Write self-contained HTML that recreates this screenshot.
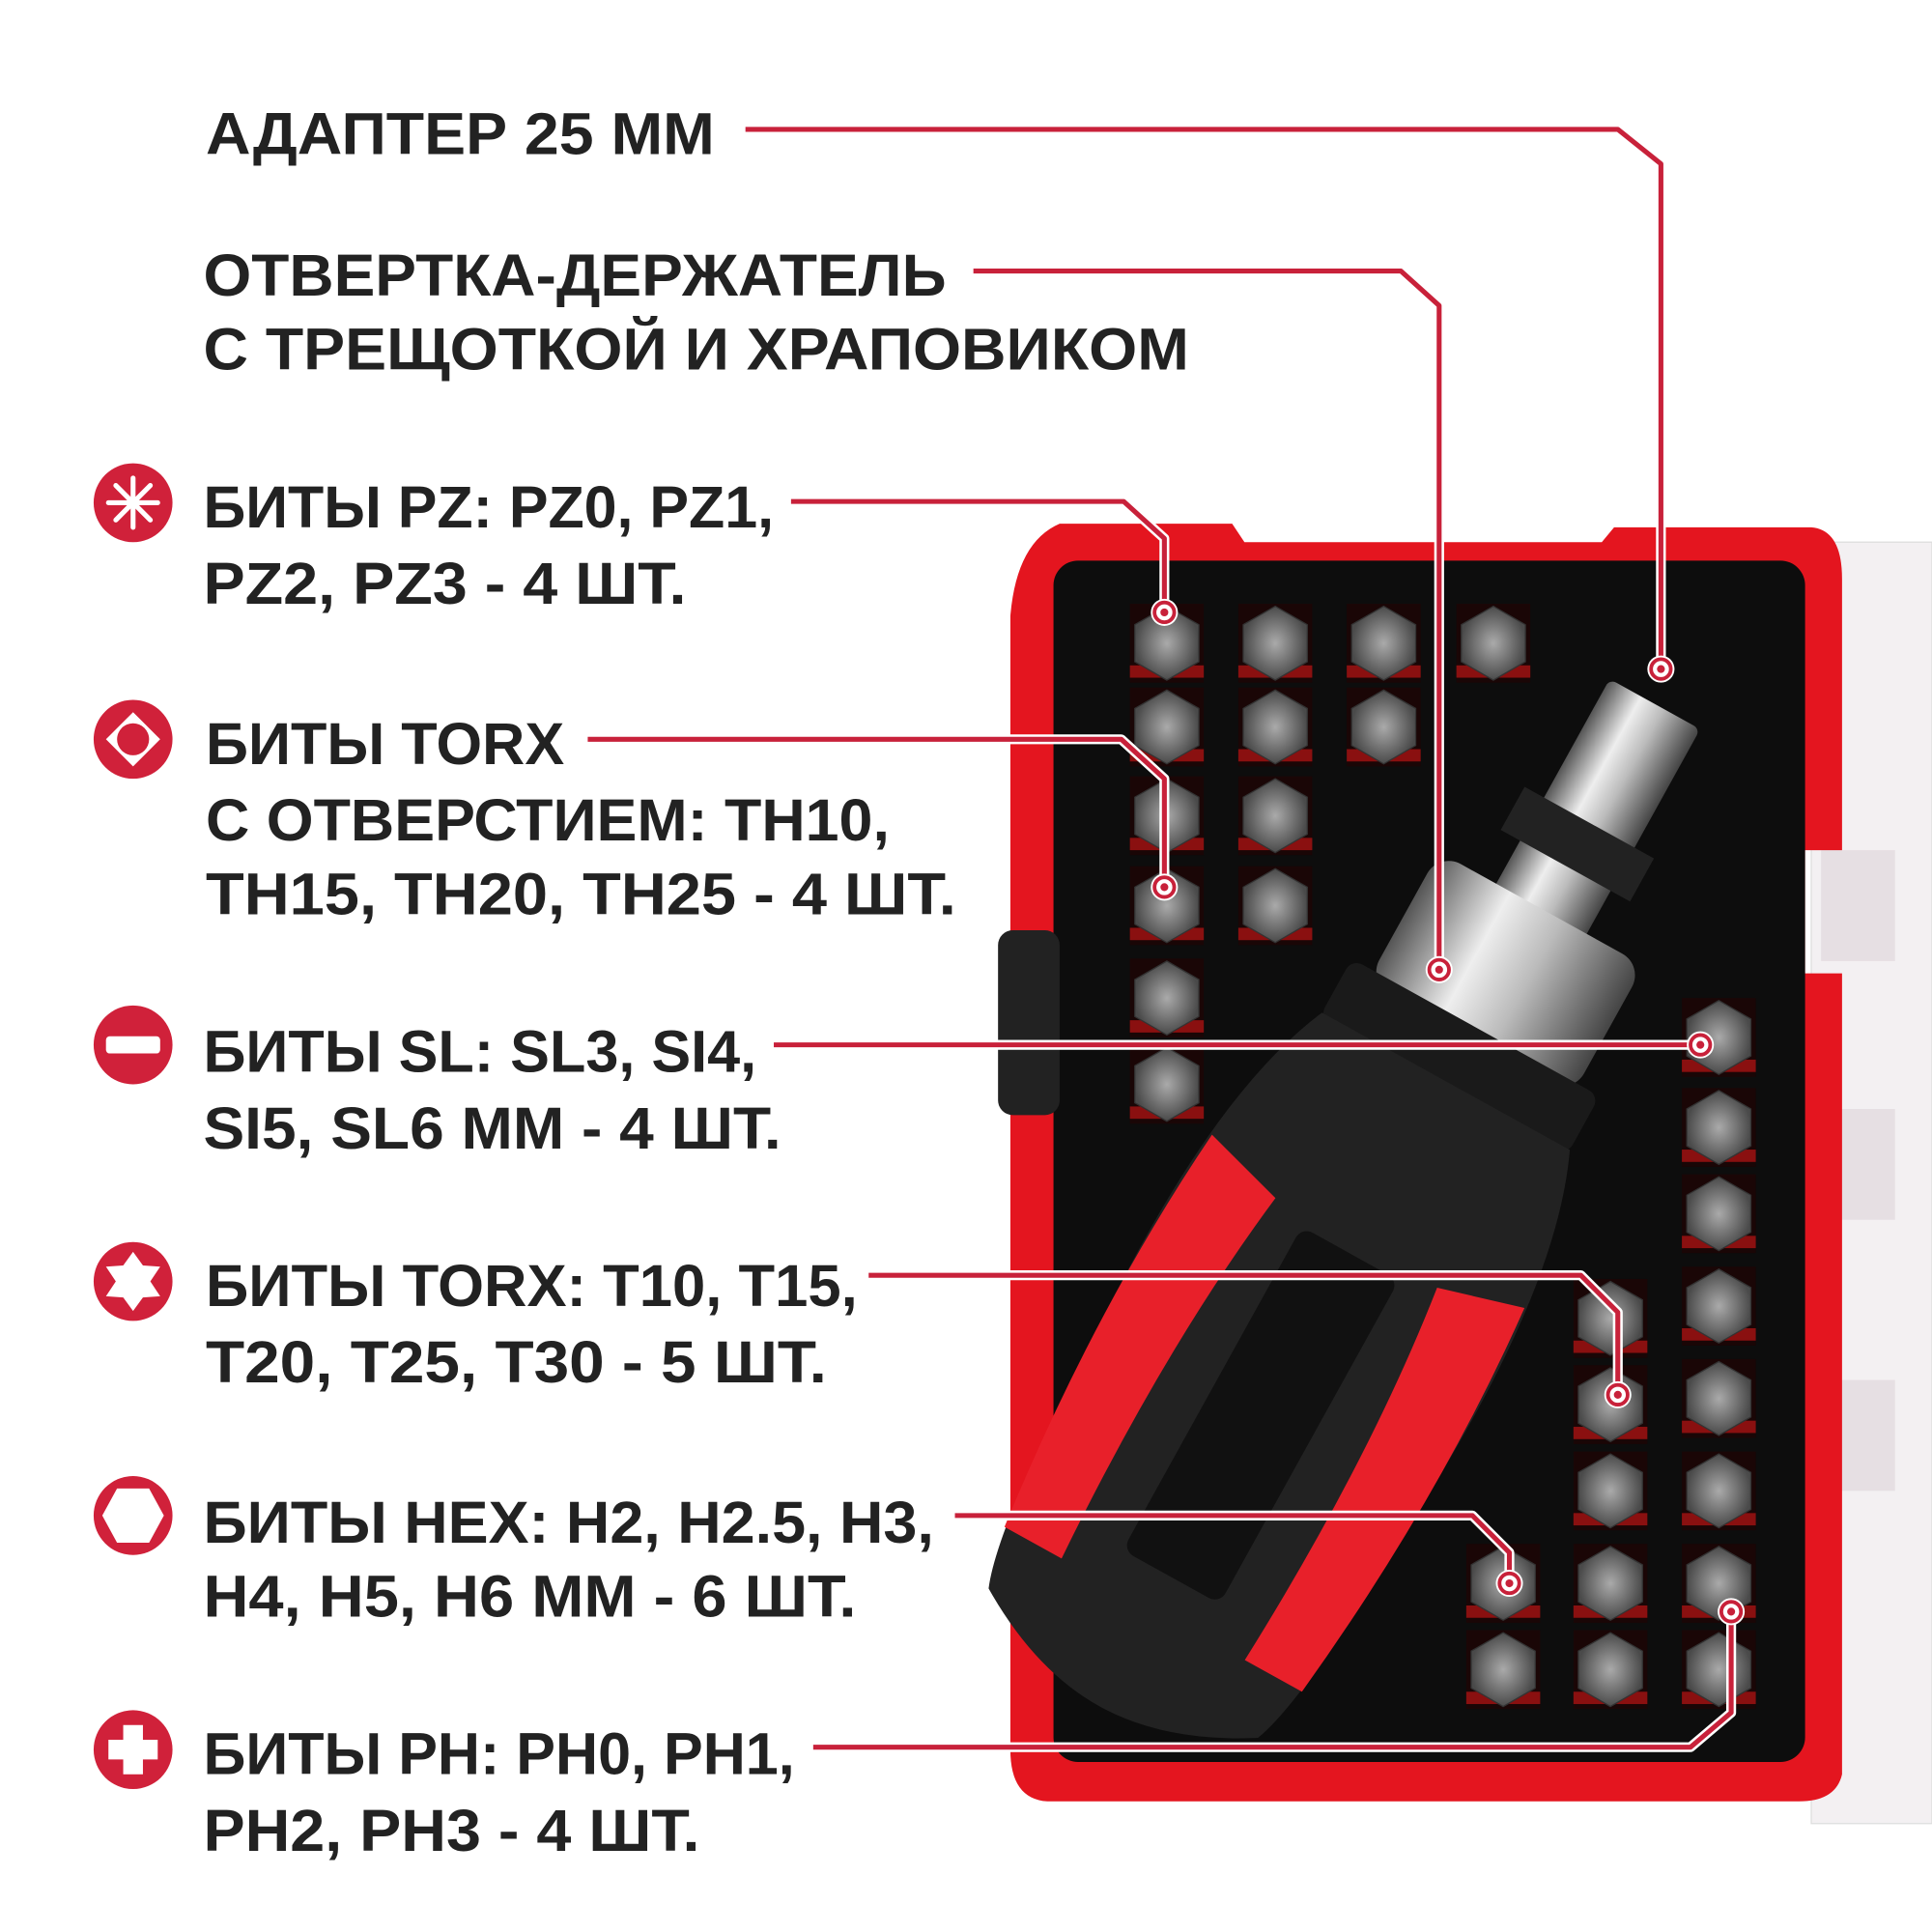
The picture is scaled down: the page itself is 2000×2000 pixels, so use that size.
<!DOCTYPE html>
<html><head><meta charset="utf-8"><style>
html,body{margin:0;padding:0;background:#fff;}
svg{display:block;}
text{font-family:"Liberation Sans","DejaVu Sans",sans-serif;font-weight:bold;fill:#222;font-size:48px;}
</style></head><body>
<svg width="2000" height="2000" viewBox="0 0 1568 1568" xmlns="http://www.w3.org/2000/svg">
<defs>
<linearGradient id="metal" x1="0" x2="1"><stop offset="0" stop-color="#555"/><stop offset="0.35" stop-color="#eee"/><stop offset="0.6" stop-color="#bbb"/><stop offset="1" stop-color="#444"/></linearGradient>
<radialGradient id="bit"><stop offset="0" stop-color="#aaa"/><stop offset="1" stop-color="#4a4a4a"/></radialGradient>
<g id="hx"><rect x="-30" y="-32" width="60" height="64" fill="#1a0606"/><rect x="-30" y="18" width="60" height="10" fill="#8a1010"/><polygon points="-26,-15 0,-30 26,-15 26,15 0,30 -26,15" fill="url(#bit)" stroke="#333"/></g>
<g id="dot"><circle r="11" fill="#fff"/><circle r="8" fill="#fff" stroke="#c8213a" stroke-width="3"/><circle r="3.2" fill="#c8213a"/></g>
</defs>
<!-- clear lid -->
<rect x="1470" y="440" width="98" height="1040" fill="#f3f0f2" stroke="#ddd"/>
<rect x="1478" y="690" width="60" height="90" fill="#e6dfe3"/><rect x="1478" y="900" width="60" height="90" fill="#e6dfe3"/><rect x="1478" y="1120" width="60" height="90" fill="#e6dfe3"/>
<!-- case -->
<path d="M860,425 L1000,425 L1010,440 L1300,440 L1310,428 L1470,428 Q1495,430 1495,470 L1495,690 L1465,690 L1465,790 L1495,790 L1495,1440 Q1490,1462 1460,1462 L850,1462 Q820,1460 820,1420 L820,500 Q825,440 860,425 Z" fill="#e4151f"/>
<rect x="855" y="455" width="610" height="975" rx="20" fill="#0d0d0d"/>
<rect x="810" y="755" width="50" height="150" rx="12" fill="#222"/>
<!-- bits left -->
<use href="#hx" x="947" y="522"/><use href="#hx" x="1035" y="522"/><use href="#hx" x="1123" y="522"/><use href="#hx" x="1212" y="522"/>
<use href="#hx" x="947" y="590"/><use href="#hx" x="1035" y="590"/><use href="#hx" x="1123" y="590"/>
<use href="#hx" x="947" y="662"/><use href="#hx" x="1035" y="662"/>
<use href="#hx" x="947" y="735"/><use href="#hx" x="1035" y="735"/>
<use href="#hx" x="947" y="810"/><use href="#hx" x="947" y="880"/>
<!-- bits right -->
<use href="#hx" x="1395" y="842"/><use href="#hx" x="1395" y="915"/><use href="#hx" x="1395" y="985"/><use href="#hx" x="1395" y="1060"/><use href="#hx" x="1395" y="1135"/><use href="#hx" x="1395" y="1210"/><use href="#hx" x="1395" y="1285"/><use href="#hx" x="1395" y="1355"/>
<use href="#hx" x="1307" y="1070"/><use href="#hx" x="1307" y="1140"/><use href="#hx" x="1307" y="1210"/><use href="#hx" x="1307" y="1285"/><use href="#hx" x="1307" y="1355"/>
<use href="#hx" x="1220" y="1285"/><use href="#hx" x="1220" y="1355"/>
<!-- screwdriver -->
<g transform="translate(1125,965) rotate(29)">
<rect x="-42" y="-450" width="84" height="200" rx="6" fill="url(#metal)"/>
<rect x="-60" y="-340" width="120" height="40" fill="#222"/>
<rect x="-95" y="-260" width="190" height="120" rx="20" fill="url(#metal)"/>
<rect x="-115" y="-150" width="230" height="55" rx="10" fill="#1a1a1a"/>
<path d="M-115,-100 L115,-100 Q160,0 150,200 Q145,390 125,440 Q60,480 0,480 Q-60,480 -125,440 Q-145,390 -150,200 Q-160,0 -115,-100 Z" fill="#222"/>
<path d="M-145,30 Q-160,200 -138,390 L-85,390 Q-95,200 -75,50 Z" fill="#e8202a"/>
<path d="M145,30 Q160,200 138,390 L85,390 Q95,200 75,50 Z" fill="#e8202a"/>
<rect x="-45" y="60" width="90" height="300" rx="10" fill="#111"/>
</g>
<!-- connectors -->
<g fill="none" stroke-linejoin="round">
<g stroke="#fff" stroke-width="8">
<polyline points="605,105 1313,105 1348,133 1348,543"/>
<polyline points="790,220 1137,220 1168,248 1168,787"/>
<polyline points="642,407 912,407 945,437 945,497"/>
<polyline points="477,600 910,600 945,632 945,720"/>
<polyline points="628,848 1380,848"/>
<polyline points="705,1035 1283,1035 1313,1065 1313,1132"/>
<polyline points="775,1230 1195,1230 1225,1260 1225,1285"/>
<polyline points="660,1418 1372,1418 1405,1390 1405,1308"/>
</g>
<g stroke="#c8213a" stroke-width="4">
<polyline points="605,105 1313,105 1348,133 1348,543"/>
<polyline points="790,220 1137,220 1168,248 1168,787"/>
<polyline points="642,407 912,407 945,437 945,497"/>
<polyline points="477,600 910,600 945,632 945,720"/>
<polyline points="628,848 1380,848"/>
<polyline points="705,1035 1283,1035 1313,1065 1313,1132"/>
<polyline points="775,1230 1195,1230 1225,1260 1225,1285"/>
<polyline points="660,1418 1372,1418 1405,1390 1405,1308"/>
</g></g>
<use href="#dot" x="1348" y="543"/><use href="#dot" x="1168" y="787"/><use href="#dot" x="945" y="497"/><use href="#dot" x="945" y="720"/><use href="#dot" x="1380" y="848"/><use href="#dot" x="1313" y="1132"/><use href="#dot" x="1225" y="1285"/><use href="#dot" x="1405" y="1308"/>
<!-- icons -->
<g fill="#d0213a">
<circle cx="108" cy="408" r="32"/><circle cx="108" cy="600" r="32"/><circle cx="108" cy="848" r="32"/><circle cx="108" cy="1040" r="32"/><circle cx="108" cy="1230" r="32"/><circle cx="108" cy="1420" r="32"/>
</g>
<g stroke="#fff" stroke-width="4" stroke-linecap="round"><line x1="108" y1="388" x2="108" y2="428"/><line x1="88" y1="408" x2="128" y2="408"/><line x1="94" y1="394" x2="122" y2="422"/><line x1="122" y1="394" x2="94" y2="422"/></g>
<polygon points="108,578 119,589 130,600 119,611 108,622 97,611 86,600 97,589" fill="#fff"/><circle cx="108" cy="600" r="13" fill="#d0213a"/>
<rect x="86" y="841" width="44" height="14" rx="3" fill="#fff"/>
<polygon points="108,1016 116,1027 130,1028 122,1040 130,1052 116,1053 108,1064 100,1053 86,1052 94,1040 86,1028 100,1027" fill="#fff"/>
<polygon points="95,1208 121,1208 133,1230 121,1252 95,1252 83,1230" fill="#fff"/>
<path d="M100,1400 h16 v12 h12 v16 h-12 v12 h-16 v-12 h-12 v-16 h12 z" fill="#fff"/>
<!-- text -->
<text x="167" y="125" textLength="413" lengthAdjust="spacingAndGlyphs">АДАПТЕР 25 ММ</text>
<text x="165" y="240" textLength="603" lengthAdjust="spacingAndGlyphs">ОТВЕРТКА-ДЕРЖАТЕЛЬ</text>
<text x="165" y="300" textLength="800" lengthAdjust="spacingAndGlyphs">С ТРЕЩОТКОЙ И ХРАПОВИКОМ</text>
<text x="165" y="428" textLength="463" lengthAdjust="spacingAndGlyphs">БИТЫ PZ: PZ0, PZ1,</text>
<text x="165" y="490" textLength="392" lengthAdjust="spacingAndGlyphs">PZ2, PZ3 - 4 ШТ.</text>
<text x="167" y="620" textLength="291" lengthAdjust="spacingAndGlyphs">БИТЫ TORX</text>
<text x="167" y="682" textLength="555" lengthAdjust="spacingAndGlyphs">С ОТВЕРСТИЕМ: TH10,</text>
<text x="167" y="742" textLength="609" lengthAdjust="spacingAndGlyphs">TH15, TH20, TH25 - 4 ШТ.</text>
<text x="165" y="870" textLength="449" lengthAdjust="spacingAndGlyphs">БИТЫ SL: SL3, SI4,</text>
<text x="165" y="932" textLength="469" lengthAdjust="spacingAndGlyphs">SI5, SL6 ММ - 4 ШТ.</text>
<text x="167" y="1060" textLength="529" lengthAdjust="spacingAndGlyphs">БИТЫ TORX: T10, T15,</text>
<text x="167" y="1122" textLength="504" lengthAdjust="spacingAndGlyphs">T20, T25, T30 - 5 ШТ.</text>
<text x="165" y="1252" textLength="593" lengthAdjust="spacingAndGlyphs">БИТЫ HEX: H2, H2.5, H3,</text>
<text x="165" y="1312" textLength="530" lengthAdjust="spacingAndGlyphs">H4, H5, H6 ММ - 6 ШТ.</text>
<text x="165" y="1440" textLength="480" lengthAdjust="spacingAndGlyphs">БИТЫ PH: PH0, PH1,</text>
<text x="165" y="1502" textLength="403" lengthAdjust="spacingAndGlyphs">PH2, PH3 - 4 ШТ.</text>
</svg>
</body></html>
